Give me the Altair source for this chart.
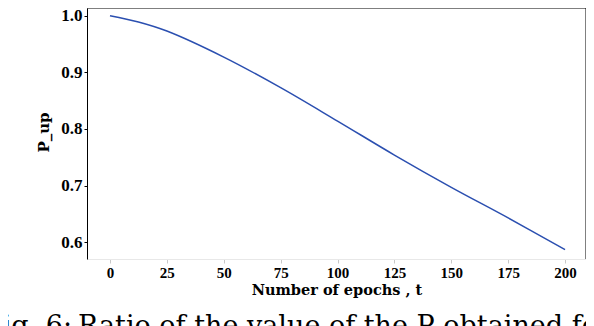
import altair as alt
import pandas as pd

# data
epochs = [0, 12.5, 25, 50, 75, 100, 125, 150, 175, 200]
p_up = [1.000, 0.989, 0.973, 0.927, 0.873, 0.814, 0.754, 0.697, 0.643, 0.587]
x_ticks = [0, 25, 50, 75, 100, 125, 150, 175, 200]
y_ticks = [0.6, 0.7, 0.8, 0.9, 1.0]
caption_head = ["Fig. 6:"]
caption_body = ["Ratio of the value of the P obtained for"]

W, H = 499, 251
SERIF = "Liberation Serif"
CAPFONT = "DejaVu Serif"

df = pd.DataFrame({"t": epochs, "p": p_up})
one = pd.DataFrame({"c": caption_head})
two = pd.DataFrame({"c": caption_body})

line = alt.Chart(df).mark_line(
    color="#2b4fb0", strokeWidth=1.5, interpolate="catmull-rom"
).encode(
    x=alt.X(
        "t:Q",
        scale=alt.Scale(domain=[-10.1, 209.2], nice=False, zero=False),
        axis=alt.Axis(
            values=x_ticks, title="Number of epochs , t", grid=False,
            domainColor="#e8e8e8", tickColor="#c8c8c8", tickSize=4,
            labelFont=SERIF, labelFontSize=15, labelFontWeight="bold",
            labelColor="black", labelPadding=2,
            titleFont="DejaVu Serif", titleFontSize=14.5, titleFontWeight="bold",
            titleColor="black", titleY=35, titleBaseline="alphabetic",
        ),
    ),
    y=alt.Y(
        "p:Q",
        scale=alt.Scale(domain=[0.5705, 1.0136], nice=False, zero=False),
        axis=alt.Axis(
            values=y_ticks, format=".1f", title="P_up", grid=False,
            domainColor="black", tickColor="black", tickSize=3,
            labelFont=SERIF, labelFontSize=17, labelFontWeight="bold",
            labelColor="black", labelPadding=2,
            titleFont="DejaVu Serif", titleFontSize=15, titleFontWeight="bold",
            titleColor="black", titleX=-44, titleY=124,
            titleBaseline="middle",
        ),
    ),
)

top_rule = alt.Chart(one).mark_rule(color="black", strokeWidth=1).encode(
    x=alt.value(0), x2=alt.value(W), y=alt.value(0)
)
right_rule = alt.Chart(one).mark_rule(color="black", strokeWidth=1).encode(
    x=alt.value(W), y=alt.value(0), y2=alt.value(H)
)
cap1 = alt.Chart(one).mark_text(
    font=CAPFONT, fontSize=27, align="left", baseline="alphabetic", color="black"
).encode(text="c:N", x=alt.value(-103), y=alt.value(327))
cap2 = alt.Chart(two).mark_text(
    font=CAPFONT, fontSize=27, align="left", baseline="alphabetic", color="black"
).encode(text="c:N", x=alt.value(-9), y=alt.value(327))

chart = alt.layer(line, top_rule, right_rule, cap1, cap2).properties(
    width=W, height=H,
    autosize=alt.AutoSizeParams(type="none"),
    padding={"left": 79, "top": 0, "right": 0, "bottom": 70},
).configure_view(stroke=None)

chart.save("out.html", embed_options={"renderer": "svg", "actions": False})
